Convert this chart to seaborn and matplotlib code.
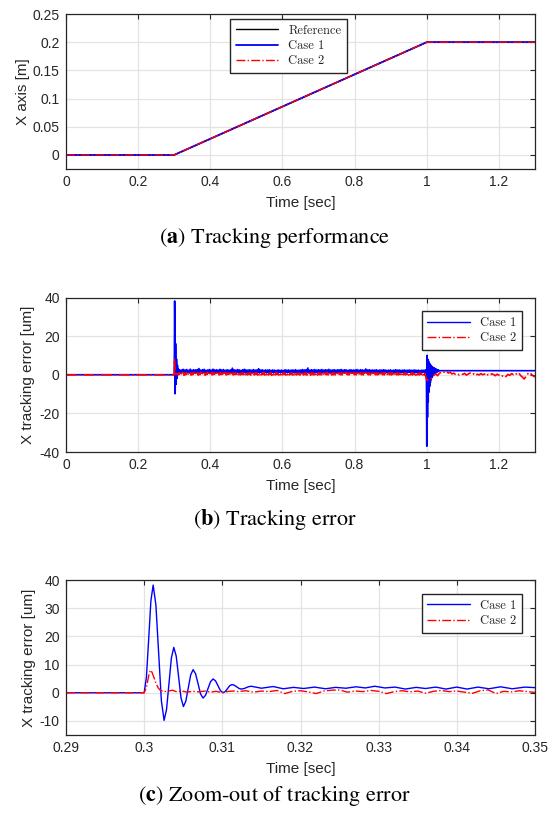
import numpy as np
import matplotlib
matplotlib.use("Agg")
import matplotlib.pyplot as plt
import seaborn as sns

# ---------------- data ----------------
# (a) position tracking
t_pos = [0.0, 0.3, 1.0, 1.3]
pos_ref = [0.0, 0.0, 0.2, 0.2]
pos_case1 = [0.0, 0.0, 0.2, 0.2]
pos_case2 = [0.0, 0.0, 0.2, 0.2]

# (c) zoomed transient (um)
t_c1 = [0.29, 0.3, 0.30029, 0.30058, 0.30086, 0.30115, 0.3015, 0.30185, 0.3022, 0.30255,
        0.30286, 0.30317, 0.30348, 0.30379, 0.3041, 0.30441, 0.30471, 0.30502, 0.30533,
        0.30564, 0.30595, 0.30626, 0.30658, 0.3069, 0.30721, 0.30753, 0.30785, 0.30817,
        0.30849, 0.30881, 0.30913, 0.30945, 0.30977, 0.31009, 0.31037, 0.31066, 0.31094,
        0.31123, 0.31153, 0.31183, 0.31213, 0.31243, 0.31275, 0.31306, 0.31338, 0.3137,
        0.3150, 0.3165, 0.3178, 0.3191, 0.3204, 0.3218, 0.3232, 0.3245, 0.3258, 0.3271,
        0.3283, 0.3295, 0.3308, 0.3321, 0.3334, 0.3348, 0.3360, 0.3373, 0.3386, 0.3400,
        0.3413, 0.3427, 0.3441, 0.3456, 0.3471, 0.3487, 0.3500]
e_c1 = [0.0, 0.0, 5.6, 19.1, 32.6, 38.2, 31.2, 14.2, -2.8, -9.8,
        -6.0, 3.15, 12.3, 16.1, 13.0, 5.6, -1.8, -4.9, -3.0,
        1.65, 6.3, 8.2, 6.7, 3.15, -0.4, -1.9, -0.9, 1.5,
        3.9, 4.9, 4.2, 2.45, 0.7, 0.0, 0.42, 1.45, 2.48,
        2.9, 2.67, 2.1, 1.53, 1.3, 1.45, 1.8, 2.15, 2.3,
        1.6, 2.2, 1.4, 1.9, 1.5, 2.0, 1.4, 1.9, 1.6, 2.1,
        1.7, 2.3, 1.7, 2.0, 1.3, 1.9, 1.5, 2.0, 1.3, 2.0,
        1.3, 2.0, 1.4, 2.1, 1.4, 2.0, 1.8]

t_c2 = [0.29, 0.3, 0.3003, 0.3006, 0.3008, 0.3010, 0.30125, 0.3015, 0.3018, 0.3021,
        0.3025, 0.3030, 0.3036, 0.3042, 0.3048, 0.3055, 0.3062, 0.3070, 0.3078, 0.3085,
        0.3092, 0.3100, 0.3108, 0.3115,
        0.312, 0.313, 0.314, 0.315, 0.316, 0.317, 0.318, 0.319, 0.320, 0.321, 0.322,
        0.323, 0.324, 0.325, 0.326, 0.327, 0.328, 0.329, 0.330, 0.331, 0.332, 0.333,
        0.334, 0.335, 0.336, 0.337, 0.338, 0.339, 0.340, 0.341, 0.342, 0.343, 0.344,
        0.345, 0.346, 0.347, 0.348, 0.349, 0.350]
e_c2 = [0.0, 0.0, 2.0, 6.3, 8.0, 7.3, 5.4, 3.4, 1.7, 0.8,
        0.4, 0.5, 0.9, 0.3, 0.6, 0.2, 0.5, 0.3, 0.6, 0.2,
        0.5, 0.0, 0.5, 0.6,
        0.4, 0.7, 0.2, 0.6, 0.4, 0.8, -0.3, 0.5, 0.7, 0.3, -0.3,
        0.6, 0.9, 1.0, 0.2, 0.6, 0.4, 0.8, 0.5, -0.3, 0.4, 0.7,
        0.3, 0.6, -0.2, 0.5, 0.8, 0.4, 0.6, 0.2, -0.2, 0.7, 1.0,
        -0.3, 0.5, 0.3, 0.7, 0.4, 0.1]

# (b) steady tracking band between the two transients (um), evenly sampled
band_case1 = [
    2.6, 1.0, 2.4, 1.2, 2.8, 0.9, 2.5, 1.1, 2.7, 1.3, 2.3, 0.9, 2.9, 1.0, 2.4, 1.2, 2.6, 0.8, 2.5, 1.1,
    2.7, 1.0, 3.2, 1.2, 2.4, 0.9, 2.6, 1.1, 2.8, 1.0, 2.3, 1.2, 2.5, 0.9, 2.7, 1.1, 2.4, 1.0, 2.9, 1.2,
    2.5, 0.9, 2.6, 1.1, 2.4, 1.0, 2.8, 1.2, 2.5, 0.9, 2.7, 1.0, 2.3, 1.1, 2.6, 1.2, 2.4, 0.9, 2.5, 1.0,
    3.4, 1.1, 2.6, 1.0, 2.4, 1.2, 2.7, 0.9, 2.5, 1.1, 2.3, 1.0, 2.6, 1.2, 2.8, 0.9, 2.4, 1.1, 2.5, 1.0,
    2.6, 1.2, 2.3, 0.9, 2.7, 1.1, 2.4, 1.0, 2.5, 1.2, 3.1, 0.9, 2.4, 1.1, 2.6, 1.0, 2.3, 1.2, 2.5, 0.9,
    2.4, 1.1, 2.6, 1.0, 2.3, 1.2, 2.5, 0.9, 2.4, 1.1, 2.2, 1.0, 2.5, 1.2, 2.3, 0.9, 2.4, 1.1, 2.2, 1.0,
    2.6, 1.1, 2.4, 1.0, 2.5, 1.2, 2.3, 1.0, 2.5, 1.1, 2.4, 1.0, 2.6, 1.2, 2.3, 1.0, 2.4, 1.1, 2.5, 1.0,
    2.7, 0.9, 2.5, 1.2, 2.6, 1.0, 3.5, 1.1, 2.4, 0.9, 2.6, 1.2, 2.5, 1.0, 2.7, 1.1, 2.4, 0.9, 2.6, 1.0,
    2.5, 1.1, 2.7, 1.0, 2.4, 1.2, 2.6, 0.9, 2.5, 1.1, 2.8, 1.0, 2.4, 1.2, 2.5, 0.9, 2.6, 1.1, 2.4, 1.0,
    2.6, 1.2, 2.5, 0.9, 2.7, 1.1, 2.4, 1.0, 2.6, 1.2, 2.5, 0.9, 2.3, 1.1, 2.6, 1.0, 2.5, 1.2, 2.4, 0.9,
    2.5, 1.0, 2.7, 1.1, 2.4, 0.9, 2.6, 1.2, 2.5, 1.0, 2.4, 1.1, 3.0, 0.9, 2.5, 1.0, 2.6, 1.2, 2.4, 1.1,
    2.5, 0.9, 2.4, 1.1, 2.6, 1.0, 2.3, 1.2, 2.5, 0.9, 2.4, 1.1, 2.6, 1.0, 2.5, 1.2, 2.3, 0.9, 2.4, 1.0,
    2.5, 1.1, 2.3, 1.0, 2.4, 1.2, 2.6, 0.9, 2.4, 1.1, 2.5, 1.0, 2.3, 1.2, 2.4, 0.9, 2.5, 1.1, 2.3, 1.0,
    2.4, 1.2, 2.5, 1.0, 2.3, 1.1, 2.4, 0.9, 2.5, 1.2, 2.3, 1.0, 2.4, 1.1, 2.2, 1.0, 2.4, 1.2, 2.3, 1.1]
band_case2 = [
    1.0, -0.2, 0.8, 0.1, 1.2, -0.3, 0.9, 0.0, 1.1, -0.1, 0.7, 0.2, 1.0, -0.2, 0.9, 0.0, 1.2, -0.1, 0.8, 0.1,
    1.1, -0.2, 0.9, 0.0, 1.3, -0.1, 0.8, 0.2, 1.0, -0.3, 0.9, 0.1, 1.1, -0.2, 0.8, 0.0, 1.0, -0.1, 1.2, 0.1,
    0.9, -0.2, 1.0, 0.0, 0.8, -0.1, 1.1, 0.1, 0.9, -0.3, 1.0, 0.0, 1.2, -0.1, 0.8, 0.1, 1.0, -0.2, 0.9, 0.0,
    1.1, -0.1, 0.9, 0.1, 1.0, -0.2, 0.8, 0.0, 1.2, -0.1, 0.9, 0.1, 1.0, -0.3, 0.8, 0.0, 1.1, -0.1, 0.9, 0.1,
    1.0, -0.2, 1.2, 0.0, 0.8, -0.1, 1.0, 0.1, 0.9, -0.2, 1.1, 0.0, 0.8, -0.1, 1.0, 0.1, 1.2, -0.2, 0.9, 0.0,
    1.0, -0.1, 0.8, 0.1, 1.1, -0.3, 0.9, 0.0, 1.0, -0.1, 1.2, 0.1, 0.8, -0.2, 1.0, 0.0, 0.9, -0.1, 1.1, 0.1,
    0.9, -0.2, 1.0, 0.0, 1.1, -0.1, 0.8, 0.1, 1.0, -0.2, 0.9, 0.0, 1.2, -0.1, 0.8, 0.1, 1.0, -0.2, 0.9, 0.0,
    1.2, -0.1, 0.9, 0.0, 1.0, -0.2, 0.8, 0.1, 1.1, -0.3, 0.9, 0.0, 1.0, -0.1, 1.2, 0.1, 0.8, -0.2, 1.0, 0.0,
    0.9, -0.1, 1.1, 0.1, 0.8, -0.2, 1.0, 0.0, 1.2, -0.1, 0.9, 0.1, 1.0, -0.3, 0.8, 0.0, 1.1, -0.1, 0.9, 0.1,
    1.0, -0.2, 0.8, 0.0, 1.1, -0.1, 0.9, 0.1, 1.0, -0.2, 1.2, 0.0, 0.8, -0.1, 1.0, 0.1, 0.9, -0.2, 1.1, 0.0,
    0.9, -0.1, 1.0, 0.1, 0.8, -0.3, 1.1, 0.0, 0.9, -0.1, 1.0, 0.1, 1.2, -0.2, 0.8, 0.0, 1.0, -0.1, 0.9, 0.1,
    1.1, -0.2, 0.9, 0.0, 1.0, -0.1, 0.8, 0.1, 1.2, -0.2, 0.9, 0.0, 1.0, -0.1, 1.1, 0.1, 0.8, -0.3, 1.0, 0.0,
    0.9, -0.1, 1.0, 0.1, 1.1, -0.2, 0.8, 0.0, 1.0, -0.1, 0.9, 0.1, 1.2, -0.2, 0.8, 0.0, 1.0, -0.1, 0.9, 0.1,
    1.0, -0.2, 0.8, 0.0, 1.1, -0.1, 0.9, 0.1, 1.0, -0.3, 1.2, 0.0, 0.8, -0.1, 1.0, 0.1, 0.9, -0.2, 1.1, 0.0]
band_start, band_end = 0.315, 0.994

# (b) transient at t = 1.0 s
t_step2_c1 = [0.995, 0.996, 0.997, 0.998, 0.999, 1.000, 1.001, 1.002, 1.003, 1.004, 1.005, 1.006, 1.007,
              1.008, 1.009, 1.010, 1.011, 1.012, 1.013, 1.014, 1.015, 1.016, 1.017, 1.018, 1.019, 1.020,
              1.021, 1.022, 1.023, 1.024, 1.025, 1.026, 1.027, 1.028, 1.029, 1.030, 1.031, 1.032, 1.033,
              1.034, 1.035, 1.3]
e_step2_c1 = [1.0, 2.5, 1.2, 2.6, 1.5, -37.0, 10.0, -22.0, 8.0, -14.0, 7.0, -9.0, 6.0,
              -6.0, 5.5, -4.0, 5.0, -2.5, 4.5, -1.5, 4.2, -0.8, 3.9, -0.3, 3.6, 0.2,
              3.4, 0.6, 3.2, 0.9, 3.0, 1.2, 2.8, 1.4, 2.6, 1.6, 2.5, 1.8, 2.3,
              2.0, 2.1, 2.1]

t_step2_c2 = [0.995, 1.000, 1.005, 1.010, 1.015, 1.020, 1.025, 1.030, 1.035, 1.040, 1.045, 1.050, 1.055,
              1.060, 1.065, 1.070, 1.075, 1.080, 1.085, 1.090, 1.095, 1.100, 1.105, 1.110, 1.115,
              1.120, 1.125, 1.130, 1.135, 1.140, 1.145, 1.150, 1.155, 1.160, 1.165, 1.170, 1.175,
              1.180, 1.185, 1.190, 1.195, 1.200, 1.205, 1.210, 1.215, 1.220, 1.225, 1.230, 1.235,
              1.240, 1.245, 1.250, 1.255, 1.260, 1.265, 1.270, 1.275, 1.280, 1.285, 1.290, 1.295, 1.300]
e_step2_c2 = [0.6, -2.8, -2.5, -2.6, -1.0, -0.2, 0.5, -0.5, 0.8, 1.2, 1.8, 1.0, 1.6,
              0.9, 1.3, 0.4, 0.8, 0.2, 0.6, -0.1, 0.5, 0.2, 0.7, -0.2, 0.4,
              0.9, 0.1, 0.5, -0.4, 0.3, -0.1, 0.6, 0.0, 0.4, -0.6, 0.2, -0.3,
              0.5, 0.1, -0.5, 0.3, -0.2, -1.0, -0.6, -1.4, -0.8, 0.2, -0.3, 0.6,
              0.1, 0.9, 0.3, 1.0, -0.4, -1.2, -2.2, -0.8, 0.5, 1.2, 0.2, -0.6, -1.2]

# tick labels
a_xticks = [0, 0.2, 0.4, 0.6, 0.8, 1.0, 1.2]
a_xticklabels = ["0", "0.2", "0.4", "0.6", "0.8", "1", "1.2"]
a_yticks = [0, 0.05, 0.1, 0.15, 0.2, 0.25]
a_yticklabels = ["0", "0.05", "0.1", "0.15", "0.2", "0.25"]
b_yticks = [-40, -20, 0, 20, 40]
b_yticklabels = ["-40", "-20", "0", "20", "40"]
c_xticks = [0.29, 0.30, 0.31, 0.32, 0.33, 0.34, 0.35]
c_xticklabels = ["0.29", "0.3", "0.31", "0.32", "0.33", "0.34", "0.35"]
c_yticks = [-10, 0, 10, 20, 30, 40]
c_yticklabels = ["-10", "0", "10", "20", "30", "40"]

# ---------------- assemble (b) series ----------------
mask1 = np.array(t_c1) < band_start
mask2 = np.array(t_c2) < band_start
tb1 = np.concatenate([[0.0], np.array(t_c1)[mask1],
                      np.linspace(band_start, band_end, len(band_case1)), t_step2_c1])
eb1 = np.concatenate([[0.0], np.array(e_c1)[mask1], band_case1, e_step2_c1])
tb2 = np.concatenate([[0.0], np.array(t_c2)[mask2],
                      np.linspace(band_start, band_end, len(band_case2)), t_step2_c2])
eb2 = np.concatenate([[0.0], np.array(e_c2)[mask2], band_case2, e_step2_c2])

# ---------------- style ----------------
sns.set_theme(style="whitegrid")
plt.rcParams["font.family"] = ["Liberation Sans", "DejaVu Sans"]
plt.rcParams["mathtext.fontset"] = "stix"

EDGE = "#262626"
GRID = "#e3e3e3"
TXT = "#262626"

fig = plt.figure(figsize=(5.49, 8.18), dpi=100)
L, W = 66 / 549, 469 / 549
ax_a = fig.add_axes([L, 1 - 169 / 818, W, 155 / 818])
ax_b = fig.add_axes([L, 1 - 452 / 818, W, 154.5 / 818])
ax_c = fig.add_axes([L, 1 - 735 / 818, W, 155 / 818])


def style(ax):
    ax.set_facecolor("white")
    for s in ax.spines.values():
        s.set_color(EDGE)
        s.set_linewidth(0.9)
        s.set_visible(True)
    ax.grid(True, color=GRID, linewidth=0.9)
    ax.set_axisbelow(True)
    ax.tick_params(direction="in", top=True, right=True, length=3.5, width=0.8,
                   color=EDGE, labelcolor=TXT, labelsize=10, pad=4.5)


leg_kw = dict(prop={"family": "cmr10", "size": 9}, fancybox=False, framealpha=1,
              edgecolor=EDGE, handlelength=3.4, borderpad=0.45, labelspacing=0.25,
              handletextpad=0.8, borderaxespad=0)

# (a)
sns.lineplot(x=t_pos, y=pos_ref, ax=ax_a, color="black", linewidth=1.0, label="Reference",
             estimator=None, sort=False)
sns.lineplot(x=t_pos, y=pos_case1, ax=ax_a, color="#0000ff", linewidth=1.3, label="Case 1",
             estimator=None, sort=False)
sns.lineplot(x=t_pos, y=pos_case2, ax=ax_a, color="#ff0000", linewidth=1.0, linestyle="-.",
             label="Case 2", estimator=None, sort=False)
style(ax_a)
ax_a.set_xlim(0, 1.3)
ax_a.set_ylim(-0.025, 0.25)
ax_a.set_xticks(a_xticks, a_xticklabels)
ax_a.set_yticks(a_yticks, a_yticklabels)
ax_a.set_xlabel("Time [sec]", fontsize=11, color=TXT, labelpad=5)
ax_a.set_ylabel("X axis [m]", fontsize=11, color=TXT, labelpad=2)
ax_a.legend(loc="upper center", bbox_to_anchor=(0.475, 0.968), **leg_kw)

# (b)
sns.lineplot(x=tb1, y=eb1, ax=ax_b, color="#0000ff", linewidth=1.2, label="Case 1",
             estimator=None, sort=False)
sns.lineplot(x=tb2, y=eb2, ax=ax_b, color="#ff0000", linewidth=1.2, linestyle="-.",
             label="Case 2", estimator=None, sort=False)
style(ax_b)
ax_b.set_xlim(0, 1.3)
ax_b.set_ylim(-40, 40)
ax_b.set_xticks(a_xticks, a_xticklabels)
ax_b.set_yticks(b_yticks, b_yticklabels)
ax_b.set_xlabel("Time [sec]", fontsize=11, color=TXT, labelpad=5)
ax_b.set_ylabel("X tracking error [um]", fontsize=11, color=TXT, labelpad=3)
leg_b = ax_b.legend(loc="upper right", bbox_to_anchor=(0.972, 0.91), **leg_kw)
for h in leg_b.get_lines():
    h.set_linewidth(1.0)

# (c)
sns.lineplot(x=t_c1, y=e_c1, ax=ax_c, color="#0000ff", linewidth=1.0, label="Case 1",
             estimator=None, sort=False)
sns.lineplot(x=t_c2, y=e_c2, ax=ax_c, color="#ff0000", linewidth=1.0, linestyle="-.",
             label="Case 2", estimator=None, sort=False)
style(ax_c)
ax_c.set_xlim(0.29, 0.35)
ax_c.set_ylim(-15, 40)
ax_c.set_xticks(c_xticks, c_xticklabels)
ax_c.set_yticks(c_yticks, c_yticklabels)
ax_c.set_xlabel("Time [sec]", fontsize=11, color=TXT, labelpad=5)
ax_c.set_ylabel("X tracking error [um]", fontsize=11, color=TXT, labelpad=3)
ax_c.legend(loc="upper right", bbox_to_anchor=(0.972, 0.91), **leg_kw)

# captions
cap_kw = dict(ha="center", va="center", fontsize=16, family="STIXGeneral", color="black")
fig.text(0.5, 1 - 238 / 818, r"($\mathbf{a}$) Tracking performance", **cap_kw)
fig.text(0.5, 1 - 519 / 818, r"($\mathbf{b}$) Tracking error", **cap_kw)
fig.text(0.5, 1 - 796 / 818, r"($\mathbf{c}$) Zoom-out of tracking error", **cap_kw)

fig.savefig("out.png", dpi=100)
